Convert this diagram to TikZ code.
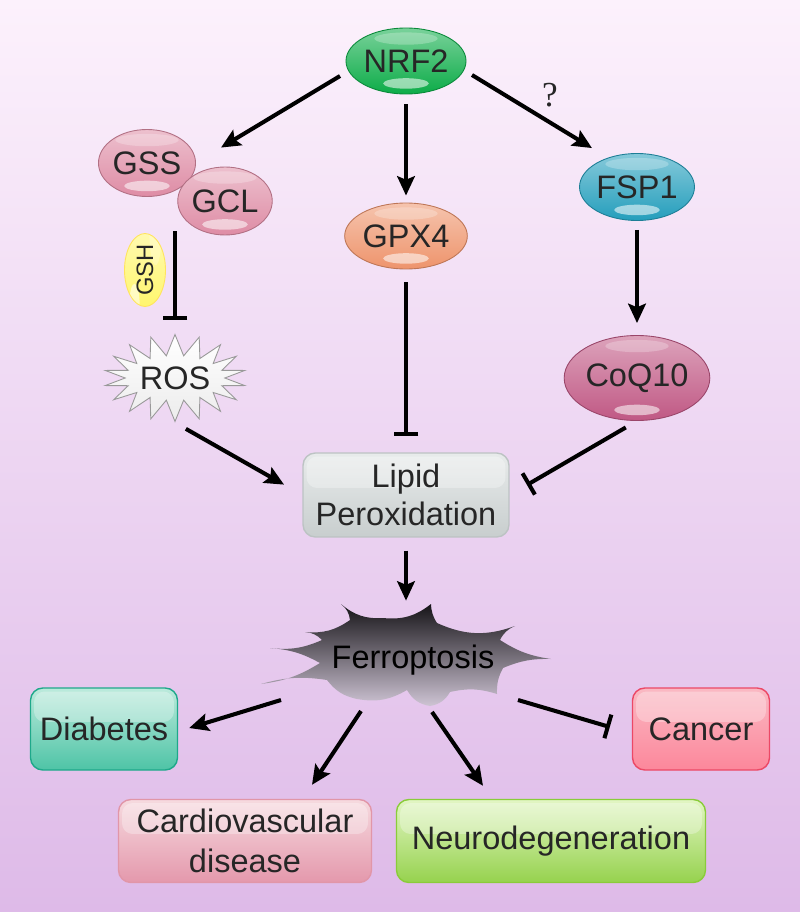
\documentclass[tikz,border=0pt]{standalone}
\usepackage{fontspec}
\setmainfont{Liberation Sans}
\newfontfamily\qfont{Liberation Serif}
\usetikzlibrary{shapes.geometric,shapes.symbols,arrows.meta,calc}

\definecolor{bgtop}{RGB}{252,241,252}
\definecolor{bgbot}{RGB}{222,186,232}
\definecolor{txt}{RGB}{38,38,38}
\definecolor{nrfgreen}{RGB}{12,172,72}
\definecolor{gsspink}{RGB}{222,140,165}
\definecolor{gpxorange}{RGB}{238,148,108}
\definecolor{fspteal}{RGB}{36,158,188}
\definecolor{coqred}{RGB}{192,88,132}
\definecolor{gshyellow}{RGB}{255,246,110}
\definecolor{diatop}{RGB}{188,234,220}
\definecolor{diabot}{RGB}{78,196,166}
\definecolor{diaedge}{RGB}{30,168,138}
\definecolor{cantop}{RGB}{250,185,195}
\definecolor{canmid}{RGB}{242,88,115}
\definecolor{canbot}{RGB}{252,135,155}
\definecolor{canedge}{RGB}{236,72,102}
\definecolor{cvdtop}{RGB}{246,218,223}
\definecolor{cvdbot}{RGB}{228,152,172}
\definecolor{cvdedge}{RGB}{225,150,168}
\definecolor{neutop}{RGB}{226,246,196}
\definecolor{neubot}{RGB}{150,210,78}
\definecolor{neuedge}{RGB}{138,204,58}
\definecolor{liptop}{RGB}{232,235,235}
\definecolor{lipbot}{RGB}{200,206,206}
\definecolor{lipedge}{RGB}{188,195,195}
\definecolor{splattop}{RGB}{22,20,24}
\definecolor{splatmid}{RGB}{132,124,136}
\definecolor{splatlo}{RGB}{206,196,212}

\begin{document}
\begin{tikzpicture}[x=0.02cm,y=-0.02cm,
    every node/.style={text=txt,font=\fontsize{18.5}{22}\selectfont},
    ball/.style={ellipse,draw=#1!80!black,line width=0.5pt,inner sep=0pt,
      top color=#1!55!white,bottom color=#1,
      path picture={
        \fill[white,opacity=0.55] ($(path picture bounding box.south)+(0,6pt)$) ellipse (13pt and 3pt);
        \fill[white,opacity=0.25] ($(path picture bounding box.north)+(0,-6pt)$) ellipse (18pt and 3.5pt);}},
    card/.style={rectangle,rounded corners=7pt,draw=#1,line width=0.8pt,align=center,inner sep=2pt,
      path picture={
        \fill[white,opacity=0.3,rounded corners=6pt] ($(path picture bounding box.north west)+(2pt,-2pt)$)
          rectangle ($(path picture bounding box.east)+(-2pt,4pt)$);}},
    act/.style={line width=2.3pt,-{Stealth[length=11pt,width=10pt,inset=2pt]}},
    inh/.style={line width=2.3pt,-{Bar[width=14pt]}}]

  \useasboundingbox (0,0) rectangle (800,912);
  \shade[top color=bgtop,bottom color=bgbot] (0,0) rectangle (800,912);

  % upper part
  \node[ball=nrfgreen,minimum width=2.28cm,minimum height=1.32cm] (nrf) at (406,61) {NRF2};
  \node[ball=gsspink,minimum width=1.76cm,minimum height=1.34cm] (gss) at (147,163) {GSS};
  \node[ball=gsspink,minimum width=1.76cm,minimum height=1.36cm] (gcl) at (225,201) {GCL};
  \node[ball=gpxorange,minimum width=2.26cm,minimum height=1.32cm] (gpx) at (406,236) {GPX4};
  \node[ball=fspteal,minimum width=2.26cm,minimum height=1.34cm] (fsp) at (637,187) {FSP1};
  \node[ball=gshyellow,draw=gshyellow!85!orange,rotate=90,minimum width=1.46cm,minimum height=0.82cm,
    font=\fontsize{13.5}{13.5}\selectfont] (gsh) at (145,270) {GSH};
  \node[starburst,starburst points=18,starburst point height=0.42cm,random starburst=0,
    draw=gray!80,line width=0.5pt,top color=white,bottom color=gray!15,
    minimum width=2.5cm,minimum height=1.74cm,inner sep=0pt] (ros) at (175,378) {ROS};
  \node[ball=coqred,minimum width=2.46cm,minimum height=1.7cm] (coq) at (637,378) {CoQ10};
  \node[card=lipedge,top color=liptop,bottom color=lipbot,minimum width=4.12cm,minimum height=1.68cm,
    font=\fontsize{18.5}{21.5}\selectfont] (lip) at (406,495) {Lipid\\Peroxidation};
  \node[font=\qfont\fontsize{20}{20}\selectfont] (q) at (550,95) {?};

  \draw[act] ($(nrf.center)+(-66,15)$) -- ($(gcl.north)+(-4,-19)$);
  \draw[act,shorten <=0.2cm,shorten >=0.14cm] (nrf.south) -- (gpx.north);
  \draw[act] ($(nrf.center)+(66,14)$) -- ($(fsp.north)+(-45,-5)$);
  \draw[inh,shorten >=0.26cm] (ros.north |- gcl.south) ++(0,-4) -- (ros.north);
  \draw[inh,shorten <=0.26cm,shorten >=0.32cm] (gpx.south) -- (lip.north);
  \draw[act,shorten <=0.18cm,shorten >=0.24cm] (fsp.south) -- (coq.north);
  \draw[act,shorten <=0.25cm,shorten >=0.42cm] (ros.south) -- (lip.west);
  \draw[inh,shorten <=0.26cm,shorten >=0.4cm] (coq.south) -- (lip.east);

  % ferroptosis splat
  \shade[top color=splattop,middle color=splatmid,bottom color=splatlo]
    (341,604) to[bend right=22] (383,618) to[bend right=22] (431,604)
    to[bend right=15] (437,623) to[bend right=22] (515,626) to[bend right=20] (500,640)
    to[bend right=12] (551,659) to[bend right=12] (503,668) to[bend right=15] (497,694)
    to[bend right=15] (450,692) to[bend left=25] (430,706) to[bend left=25] (407,690)
    to[bend left=20] (357,699) to[bend left=20] (327,680) to[bend right=12] (261,684)
    to[bend right=12] (320,663) to[bend right=12] (270,648) to[bend right=15] (322,640)
    to[bend right=20] (305,632) to[bend right=20] (350,620) to[bend right=22] cycle;
  \node[text=black] (ferro) at (413,660) {Ferroptosis};
  \draw[act,shorten <=0.26cm,shorten >=0.76cm] (lip.south) -- (lip.south |- ferro.north);

  % lower part
  \node[card=diaedge,top color=diatop,bottom color=diabot,minimum width=2.94cm,minimum height=1.64cm] (dia) at (104,729) {Diabetes};
  \node[card=canedge,top color=cantop,middle color=canmid,bottom color=canbot,minimum width=2.74cm,minimum height=1.64cm] (can) at (701,729) {Cancer};
  \node[card=cvdedge,top color=cvdtop,bottom color=cvdbot,minimum width=5.06cm,minimum height=1.66cm,
    font=\fontsize{18.5}{22.7}\selectfont] (cvd) at (245,841) {Cardiovascular\\disease};
  \node[card=neuedge,top color=neutop,bottom color=neubot,minimum width=6.18cm,minimum height=1.66cm] (neu) at (551,841) {Neurodegeneration};

  \draw[act] ($(ferro.center)+(-132,40)$) -- ($(dia.east)+(11,-1)$);
  \draw[act] ($(ferro.center)+(-52,51)$) -- ($(cvd.north)+(67,-14)$);
  \draw[act] ($(ferro.center)+(19,52)$) -- ($(neu.north)+(-68,-13)$);
  \draw[inh] ($(ferro.center)+(105,40)$) -- ($(can.west)+(-22,-2)$);
\end{tikzpicture}
\end{document}
